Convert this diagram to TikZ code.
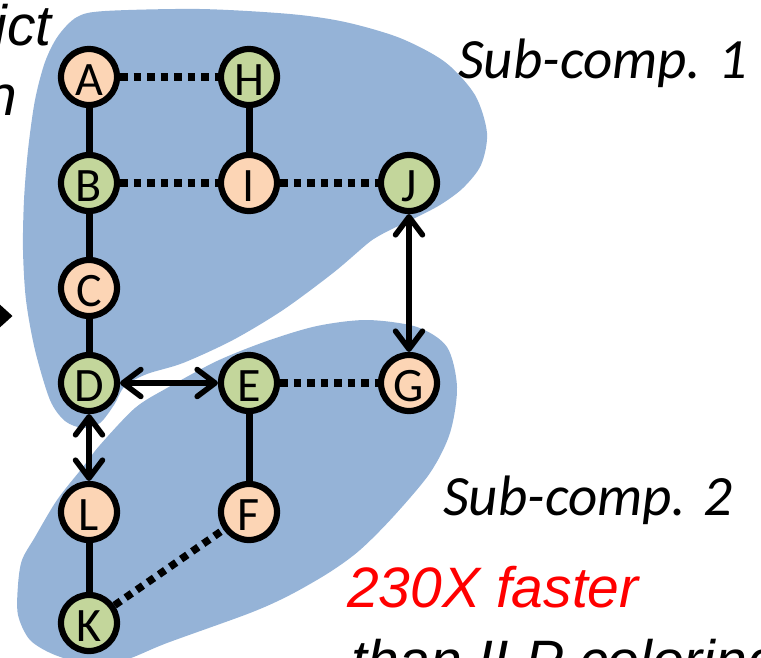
\documentclass[tikz,border=0pt]{standalone}
\usepackage{fontspec}
\newfontfamily\calibri{Carlito}
\newfontfamily\arialf{Liberation Sans}
\usetikzlibrary{arrows.meta}
\definecolor{blobblue}{HTML}{95B3D7}
\definecolor{nodeorange}{HTML}{FCD5B5}
\definecolor{nodegreen}{HTML}{C3D69B}
\tikzset{
  vert/.style={circle, draw=black, line width=6.2pt, minimum size=56pt, inner sep=0pt,
    font=\calibri\fontsize{48}{50}\selectfont, text height=36pt, text depth=0pt},
  vor/.style={vert, fill=nodeorange},
  vgr/.style={vert, fill=nodegreen},
  solidedge/.style={line width=7pt},
  dotedge/.style={line width=7.5pt, dash pattern=on 7.5pt off 6pt},
  biarrow/.style={line width=5.5pt, {Straight Barb[length=18pt,width=27pt,round]}-{Straight Barb[length=18pt,width=27pt,round]}},
  sublabel/.style={font=\calibri\itshape\fontsize{57}{60}\selectfont, inner sep=0pt},
  arlabel/.style={font=\arialf\itshape\fontsize{57}{60}\selectfont, inner sep=0pt},
  blob/.style={fill=blobblue}
}
\begin{document}
\begin{tikzpicture}[x=1pt,y=-1pt]
\useasboundingbox (0,0) rectangle (761,657);
% blobs
\fill[blob] plot[smooth cycle] coordinates {
  (377,237) (367,244) (333,273) (283,310) (233,340) (183,363) (147,374) (125,386)
  (114,405) (100,423) (83,428) (65,421) (50,400) (35,350) (26,300) (23,250)
  (24,200) (28,150) (35,100) (45,62) (58,36) (77,17) (105,11) (200,9) (290,14)
  (345,22) (400,38) (445,62) (475,95) (487,133) (481,165) (463,188) (440,205)
  (413,219) (390,230)};
\fill[blob] plot[smooth cycle] coordinates {
  (367,320) (417,327) (447,347) (457,387) (450,433) (430,473) (393,517) (360,550)
  (330,572) (290,595) (250,613) (167,643) (125,660) (90,664) (55,655) (30,640)
  (18,615) (18,585) (22,560) (35,537) (57,500) (83,467) (100,445) (135,408)
  (167,388) (217,361) (267,341) (317,326)};
% nodes
\node[vor] (A) at (89,77) {A};
\node[vgr] (H) at (249,77) {H};
\node[vgr] (B) at (89,183) {B};
\node[vor] (I) at (249,183) {I};
\node[vgr] (J) at (409,183) {J};
\node[vor] (C) at (89,288) {C};
\node[vgr] (D) at (89,383) {D};
\node[vgr] (E) at (249,383) {E};
\node[vor] (G) at (409,383) {G};
\node[vor] (L) at (89,512) {L};
\node[vor] (F) at (249,512) {F};
\node[vgr] (K) at (89,623) {K};
% edges
\draw[solidedge] (A) -- (B);
\draw[solidedge] (H) -- (I);
\draw[solidedge] (B) -- (C);
\draw[solidedge] (C) -- (D);
\draw[solidedge] (E) -- (F);
\draw[solidedge] (L) -- (K);
\draw[dotedge] (A) -- (H);
\draw[dotedge] (B) -- (I);
\draw[dotedge] (I) -- (J);
\draw[dotedge] (E) -- (G);
\draw[dotedge] (K) -- (F);
\draw[biarrow] (D) -- (E);
\draw[biarrow] (D) -- (L);
\draw[biarrow] (J) -- (G);
% texts
\node[sublabel, anchor=base west] (s1) at (458,78) {Sub-comp. 1};
\node[sublabel, anchor=base west] (s2) at (443,515) {Sub-comp. 2};
\node[arlabel, anchor=base west, text=red] (fast) at (347,607) {230X faster};
\node[arlabel, anchor=base west] (ilp) at (351,680) {than ILP coloring};
\node[arlabel, anchor=base east] (conf) at (52,45) {Conflict};
\node[arlabel, anchor=base east] (graph) at (17,115) {graph};
% left arrow tip
\fill (-14,292) -- (12.5,316) -- (-14,340) -- cycle;
\end{tikzpicture}
\end{document}
